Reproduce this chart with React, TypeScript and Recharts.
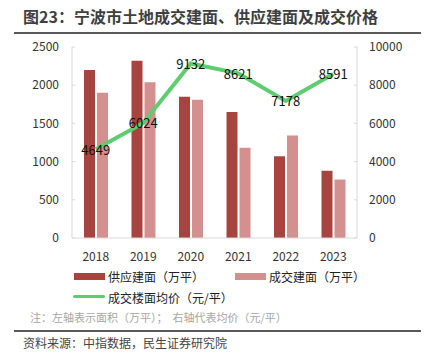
import { ComposedChart, Bar, Line, XAxis, YAxis, LabelList } from "recharts";

const years = ["2018", "2019", "2020", "2021", "2022", "2023"];
const supplyArea = [2200, 2320, 1850, 1650, 1070, 880];
const dealArea = [1900, 2040, 1810, 1180, 1340, 765];
const avgPrice = [4649, 6024, 9132, 8621, 7178, 8591];
const leftTicks = [0, 500, 1000, 1500, 2000, 2500];
const rightTicks = [0, 2000, 4000, 6000, 8000, 10000];

const data = years.map((y, i) => ({
  year: y,
  supply: supplyArea[i],
  deal: dealArea[i],
  price: avgPrice[i],
}));

const FONT = '"Noto Sans CJK SC", "Noto Sans", sans-serif';
const DARK = "#A8443F";
const PINK = "#D48F8F";
const GREEN = "#5DCD6F";
const AXIS = "#D9D9D9";

const PriceLabel = (props: any) => {
  const { x, y, value } = props;
  return (
    <text x={x} y={y} textAnchor="middle" dominantBaseline="central" fontSize={13} fill="#111" fontFamily={FONT}>
      {value}
    </text>
  );
};

const App = () => {
  return (
    <div style={{ position: "absolute", left: 0, top: 0, width: 426, height: 358, background: "#fff", fontFamily: FONT }}>
      <div style={{ position: "absolute", left: 23, top: 4, fontSize: 16, fontWeight: "bold", color: "#3f3f3f", whiteSpace: "nowrap" }}>
        图23：宁波市土地成交建面、供应建面及成交价格
      </div>
      <div style={{ position: "absolute", left: 14, top: 32, width: 407, height: 1.5, background: "#595959" }} />
      <ComposedChart
        width={426}
        height={358}
        data={data}
        margin={{ top: 47, right: 0, bottom: 100, left: 0 }}
        barSize={11}
        barGap={2}
      >
        <XAxis
          dataKey="year"
          height={20}
          tickLine={false}
          axisLine={{ stroke: AXIS }}
          tick={{ fontSize: 12, fill: "#333", fontFamily: FONT }}
          tickMargin={8}
        />
        <YAxis
          yAxisId="left"
          width={72}
          domain={[0, 2500]}
          ticks={leftTicks}
          axisLine={{ stroke: AXIS }}
          tickLine={{ stroke: AXIS }}
          tickSize={-3}
          tickMargin={16}
          tick={{ fontSize: 12, fill: "#333", fontFamily: FONT }}
        />
        <YAxis
          yAxisId="right"
          orientation="right"
          width={69}
          domain={[0, 10000]}
          ticks={rightTicks}
          axisLine={{ stroke: AXIS }}
          tickLine={{ stroke: AXIS }}
          tickSize={-3}
          tickMargin={15}
          tick={{ fontSize: 12, fill: "#333", fontFamily: FONT, textAnchor: "start" }}
        />
        <Bar yAxisId="left" dataKey="supply" fill={DARK} isAnimationActive={false} />
        <Bar yAxisId="left" dataKey="deal" fill={PINK} isAnimationActive={false} />
        <Line
          yAxisId="right"
          dataKey="price"
          stroke={GREEN}
          strokeWidth={4}
          dot={false}
          activeDot={false}
          isAnimationActive={false}
        >
          <LabelList dataKey="price" content={PriceLabel} />
        </Line>
      </ComposedChart>
      <div style={{ position: "absolute", left: 74, top: 273, width: 31, height: 7, background: DARK }} />
      <div style={{ position: "absolute", left: 108, top: 268, fontSize: 12, color: "#222", whiteSpace: "nowrap" }}>供应建面（万平）</div>
      <div style={{ position: "absolute", left: 235, top: 273, width: 31, height: 7, background: PINK }} />
      <div style={{ position: "absolute", left: 269, top: 268, fontSize: 12, color: "#222", whiteSpace: "nowrap" }}>成交建面（万平）</div>
      <div style={{ position: "absolute", left: 73, top: 295, width: 32, height: 3, borderRadius: 2, background: GREEN }} />
      <div style={{ position: "absolute", left: 108, top: 289, fontSize: 12, color: "#222", whiteSpace: "nowrap" }}>成交楼面均价（元/平）</div>
      <div style={{ position: "absolute", left: 30, top: 309, fontSize: 11, color: "#a6a6a6", whiteSpace: "pre" }}>
        注：左轴表示面积（万平）；  右轴代表均价（元/平）
      </div>
      <div style={{ position: "absolute", left: 14, top: 330, width: 407, height: 1.5, background: "#595959" }} />
      <div style={{ position: "absolute", left: 23, top: 334, fontSize: 12, color: "#444", whiteSpace: "nowrap" }}>
        资料来源：中指数据，民生证券研究院
      </div>
    </div>
  );
};

export default App;
